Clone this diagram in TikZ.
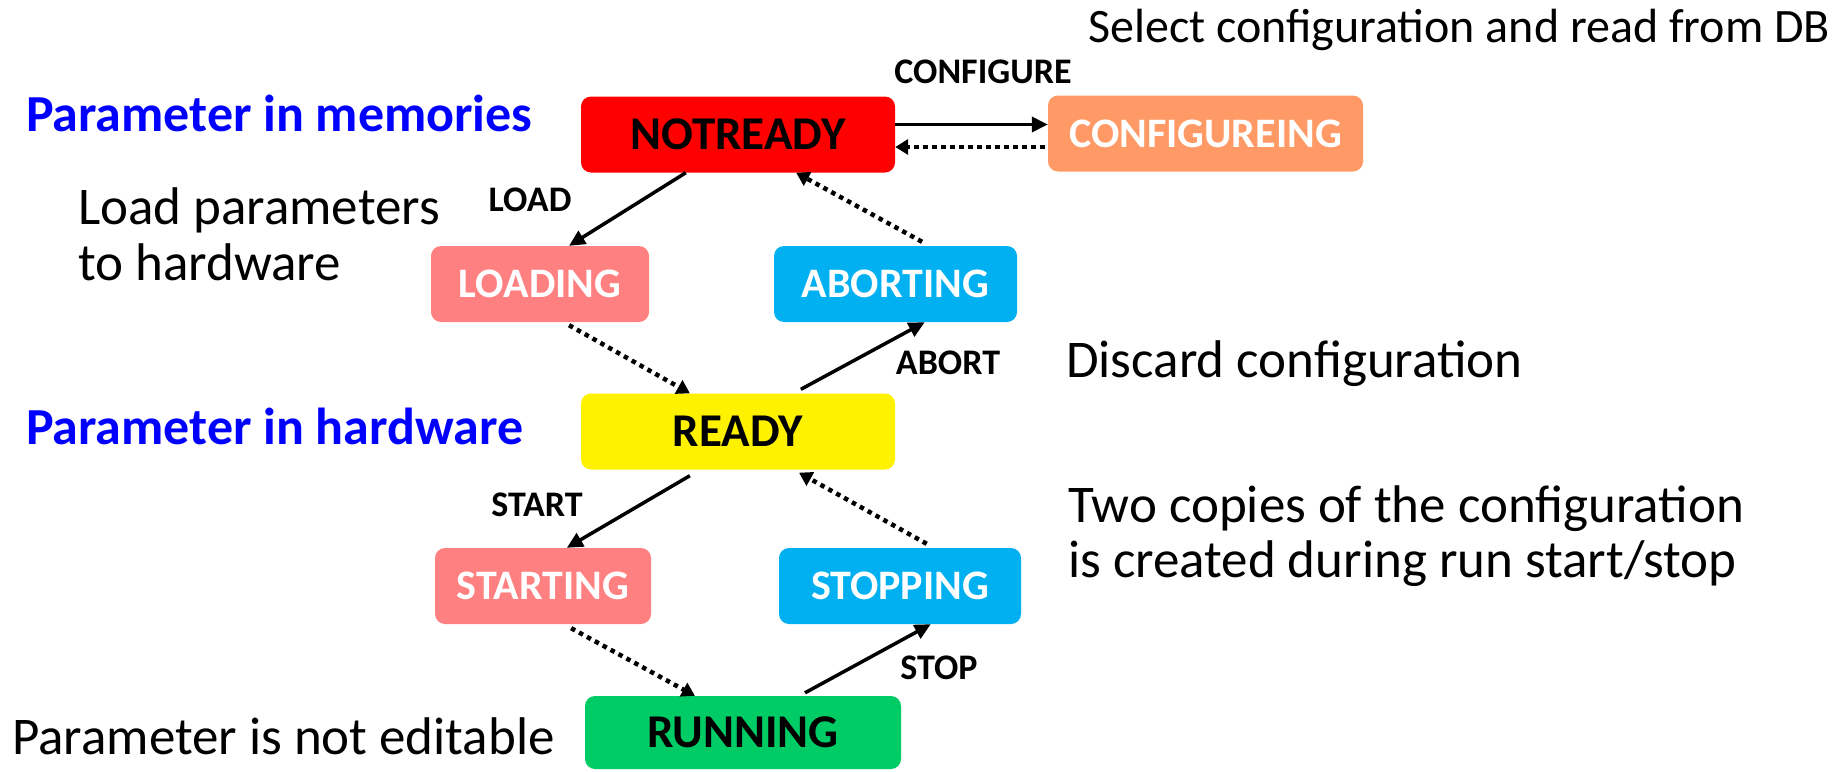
\documentclass[tikz,border=0pt]{standalone}
\usepackage{fontspec}
\setmainfont{Carlito}
\usetikzlibrary{arrows.meta,calc}
\definecolor{cfg}{RGB}{255,153,102}
\definecolor{pinkbox}{RGB}{255,128,128}
\definecolor{cyanbox}{RGB}{0,176,240}
\definecolor{greenbox}{RGB}{0,204,102}
\definecolor{bluetext}{RGB}{0,0,255}
\begin{document}
\begin{tikzpicture}[x=1pt,y=-1pt,
  state/.style={rectangle, rounded corners=10pt, minimum width=#1, minimum height=76pt, inner sep=0pt},
  bigstate/.style={font=\fontsize{47}{50}\selectfont\bfseries, text=black},
  smallstate/.style={font=\fontsize{42}{46}\selectfont\bfseries, text=white},
  elabel/.style={font=\fontsize{36}{40}\selectfont\bfseries, inner sep=0pt},
  note/.style={font=\fontsize{53}{56}\selectfont, inner sep=0pt, anchor=base west},
  bnote/.style={font=\fontsize{52}{56}\selectfont\bfseries, text=bluetext, inner sep=0pt, anchor=base west},
  solidarrow/.style={line width=3.5pt, -{Triangle[length=16pt,width=15pt]}},
  dotarrow/.style={line width=4.5pt, dash pattern=on 4.5pt off 4.5pt, -{Triangle[length=13pt,width=15pt]}}
]
\useasboundingbox (0,0) rectangle (1847,771);

% states
\node[state=314pt, fill=red, bigstate] (nr) at (738,134.5) {NOTREADY};
\node[state=315pt, fill=cfg, smallstate] (cf) at (1205.5,133.5) {CONFIGUREING};
\node[state=218pt, fill=pinkbox, smallstate] (ld) at (540,284) {LOADING};
\node[state=243pt, fill=cyanbox, smallstate] (ab) at (895.5,284) {ABORTING};
\node[state=314pt, fill=yellow, bigstate] (rd) at (738,431.5) {READY};
\node[state=216pt, fill=pinkbox, smallstate] (st) at (543,586) {STARTING};
\node[state=242pt, fill=cyanbox, smallstate] (sp) at (900,586) {STOPPING};
\node[state=316pt, fill=greenbox, bigstate, minimum height=73pt] (rn) at (743,732.5) {RUNNING};

% transitions
\draw[solidarrow] ($(nr.east)+(0,-10)$) -- ($(cf.west)+(0,-9)$);
\draw[dotarrow] ($(cf.west)+(-3,13.5)$) -- ($(nr.east)+(0,12.5)$);
\draw[solidarrow] ($(nr.south west)!0.334!(nr.south east)$) -- ($(ld.north west)!0.633!(ld.north east)$);
\draw[dotarrow] ($(ab.north west)!0.609!(ab.north east)+(0,-4)$) -- ($(nr.south west)!0.685!(nr.south east)$);
\draw[dotarrow] ($(ld.south west)!0.633!(ld.south east)+(0,3)$) -- ($(rd.north west)!0.347!(rd.north east)$);
\draw[solidarrow] ($(rd.north west)!0.70!(rd.north east)+(0,-4)$) -- ($(ab.south west)!0.62!(ab.south east)$);
\draw[solidarrow] ($(rd.south west)!0.347!(rd.south east)+(0,6)$) -- ($(st.north west)!0.61!(st.north east)$);
\draw[dotarrow] ($(sp.north west)!0.61!(sp.north east)+(0,-4)$) -- ($(rd.south west)!0.694!(rd.south east)+(0,3)$);
\draw[dotarrow] ($(st.south west)!0.63!(st.south east)+(0,4)$) -- ($(rn.north west)!0.348!(rn.north east)$);
\draw[solidarrow] ($(rn.north west)!0.696!(rn.north east)+(0,-3)$) -- ($(sp.south west)!0.627!(sp.south east)$);

% transition labels
\node[elabel] (lcfg) at (983,72) {CONFIGURE};
\node[elabel] (lload) at (530,200) {LOAD};
\node[elabel] (labort) at (948,363) {ABORT};
\node[elabel] (lstart) at (537,505) {START};
\node[elabel] (lstop) at (939,668) {STOP};

% notes
\node[note, font=\fontsize{48}{52}\selectfont] (n1) at (1088,42) {Select configuration and read from DB};
\node[bnote] (n2) at (26,131) {Parameter in memories};
\node[note] (n3) at (78,224) {Load parameters};
\node[note] (n4) at (78,280) {to hardware};
\node[note] (n5) at (1066,377) {Discard configuration};
\node[bnote] (n6) at (26,444) {Parameter in hardware};
\node[note] (n7) at (1068,522) {Two copies of the configuration};
\node[note] (n8) at (1068,577) {is created during run start/stop};
\node[note] (n9) at (12,754) {Parameter is not editable};
\end{tikzpicture}
\end{document}
